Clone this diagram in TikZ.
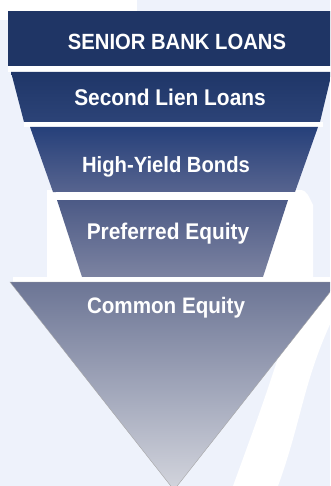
\documentclass[tikz,border=0pt]{standalone}
\usepackage{fontspec}
\setmainfont{Liberation Sans}[FakeStretch=0.92]
\begin{document}
\begin{tikzpicture}[x=1pt,y=-1pt,
  lbl/.style={text=white,anchor=base,inner sep=0pt,font=\bfseries\fontsize{22}{26}\selectfont}]
\definecolor{bgblue}{HTML}{EEF2FB}
\definecolor{navy}{HTML}{1F3565}
\definecolor{sA}{HTML}{1F3668}\definecolor{sB}{HTML}{2C4377}
\definecolor{hA}{HTML}{26407A}\definecolor{hB}{HTML}{57648F}
\definecolor{pA}{HTML}{4C5A86}\definecolor{pB}{HTML}{7C83A1}
\definecolor{cA}{HTML}{6C7595}\definecolor{cB}{HTML}{D3D5DD}
\useasboundingbox (0,0) rectangle (330,486);
\begin{scope}
\clip (0,0) rectangle (330,486);
% background
\fill[bgblue] (0,0) rectangle (330,486);
\fill[white] (0,0) rectangle (137,11);
\fill[white] (0,0) rectangle (8,20);
\fill[white] (8,66) rectangle (330,72);
\fill[white] (47,190) -- (300,190) to[out=0,in=120] (313,205) -- (313,282) -- (47,282) -- cycle;
\fill[white] (300,282) to[out=-105,in=70] (233,486) -- (278,486) to[out=70,in=-115] (332,320) -- (332,282) -- cycle;
% shapes
\fill[navy] (8,11) rectangle (332,66);
\shade[top color=sA,bottom color=sB] (11,72) -- (332,72) -- (320,122) -- (24,122) -- cycle;
\fill[white] (24,122) rectangle (323,127);
\shade[top color=hA,bottom color=hB] (30,127) -- (318,127) -- (295,192) -- (53,192) -- cycle;
\fill[white] (56,192) rectangle (296,200);
\shade[top color=pA,bottom color=pB] (57,200) -- (288,200) -- (263,277) -- (82,277) -- cycle;
\fill[white] (13,277) rectangle (332,282);
\shade[top color=cA,bottom color=cB,draw=gray!70,line width=0.4pt] (10,282) -- (338,282) -- (174,490) -- cycle;
\end{scope}
% labels
\node[lbl] (senior) at (177,50) {SENIOR BANK LOANS};
\node[lbl,font=\bfseries\fontsize{22.7}{26}\selectfont] (second) at (170,106) {Second Lien Loans};
\node[lbl] (high) at (166,173) {High-Yield Bonds};
\node[lbl,font=\bfseries\fontsize{22.7}{26}\selectfont] (pref) at (168,239) {Preferred Equity};
\node[lbl,font=\bfseries\fontsize{22.4}{26}\selectfont] (common) at (166,313) {Common Equity};
\end{tikzpicture}
\end{document}
